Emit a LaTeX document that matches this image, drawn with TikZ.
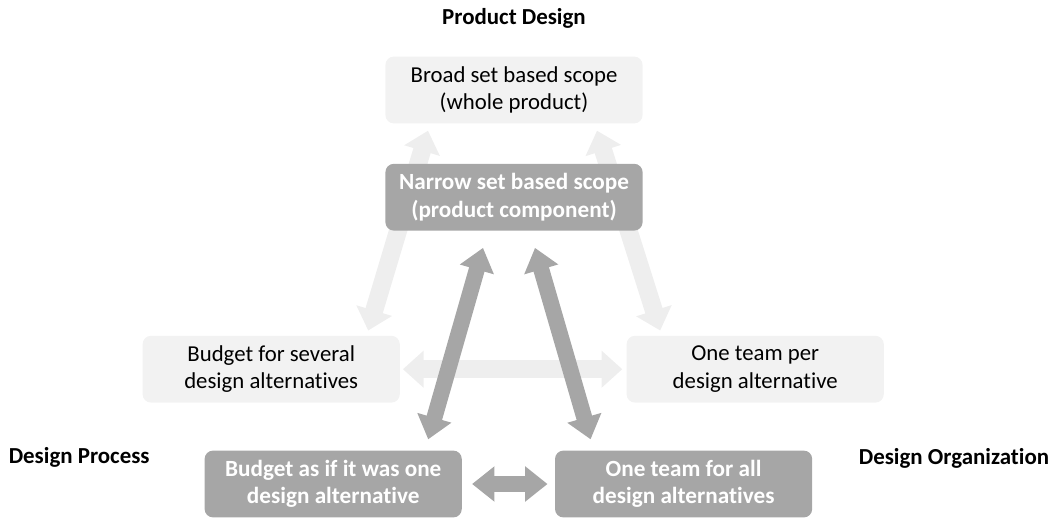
\documentclass[tikz,border=0pt]{standalone}
\usepackage{fontspec}
\setmainfont{Carlito}[Ligatures={NoCommon}]
\usetikzlibrary{arrows.meta, calc, positioning, backgrounds}
\definecolor{box_light}{HTML}{F2F2F2}
\definecolor{box_dark}{HTML}{A6A6A6}
\definecolor{arrow_light}{HTML}{EEEEEE}
\tikzset{
  scope box/.style={rounded corners=6pt, minimum width=6.43cm, minimum height=1.67cm, align=center, inner sep=2pt},
  broad box/.style={scope box, fill=box_light, text=black, font=\fontsize{16.2}{19.5}\selectfont},
  tight box/.style={scope box, fill=box_dark, text=white, font=\fontsize{16.5}{19.5}\selectfont\bfseries},
  corner label/.style={font=\fontsize{16.3}{18}\selectfont\bfseries},
  light arrow/.style={draw=arrow_light, line width=0.45cm, {Triangle[length=0.52cm,width=0.9cm]}-{Triangle[length=0.52cm,width=0.9cm]}},
  dark arrow/.style={draw=box_dark, line width=0.4cm, {Triangle[length=0.56cm,width=0.85cm]}-{Triangle[length=0.56cm,width=0.85cm]}}
}

\begin{document}
\begin{tikzpicture}
    \useasboundingbox (0,0) rectangle (26.4,-12.925);

    % product design axis
    \node[corner label] (pd) at (12.85,-0.45) {Product Design};
    \node[broad box] (broad) at (12.85,-2.25) {Broad set based scope\\(whole product)};
    \node[tight box] (narrow) at (12.85,-4.93) {Narrow set based scope\\(product component)};

    % design process axis
    \node[corner label] (dp) at (1.98,-11.43) {Design Process};
    \node[broad box] (several) at (6.78,-9.23) {Budget for several\\design alternatives};
    \node[tight box] (single) at (8.33,-12.1) {Budget as if it was one\\design alternative};

    % design organization axis
    \node[corner label] (dorg) at (23.85,-11.45) {Design Organization};
    \node[broad box] (perteam) at (18.88,-9.23) {One team per\\design alternative};
    \node[tight box] (oneteam) at (17.09,-12.1) {One team for all\\design alternatives};

    % wide choices, behind the boxes
    \begin{scope}[on background layer]
        \draw[light arrow] ([shift={(-2.15,-0.175)}]broad.south) -- ([shift={(2.425,0.125)}]several.north);
        \draw[light arrow] ([shift={(2.075,-0.175)}]broad.south) -- ([shift={(-2.375,0.125)}]perteam.north);
        \draw[light arrow] ([xshift=0.07cm]several.east) -- ([xshift=-0.1cm]perteam.west);
    \end{scope}

    % narrow choices
    \draw[dark arrow] ([shift={(-0.775,-0.425)}]narrow.south) -- ([shift={(2.375,0.275)}]single.north);
    \draw[dark arrow] ([shift={(0.525,-0.425)}]narrow.south) -- ([shift={(-2.325,0.275)}]oneteam.north);
    \draw[dark arrow] ([xshift=0.25cm]single.east) -- ([xshift=-0.18cm]oneteam.west);
\end{tikzpicture}
\end{document}
